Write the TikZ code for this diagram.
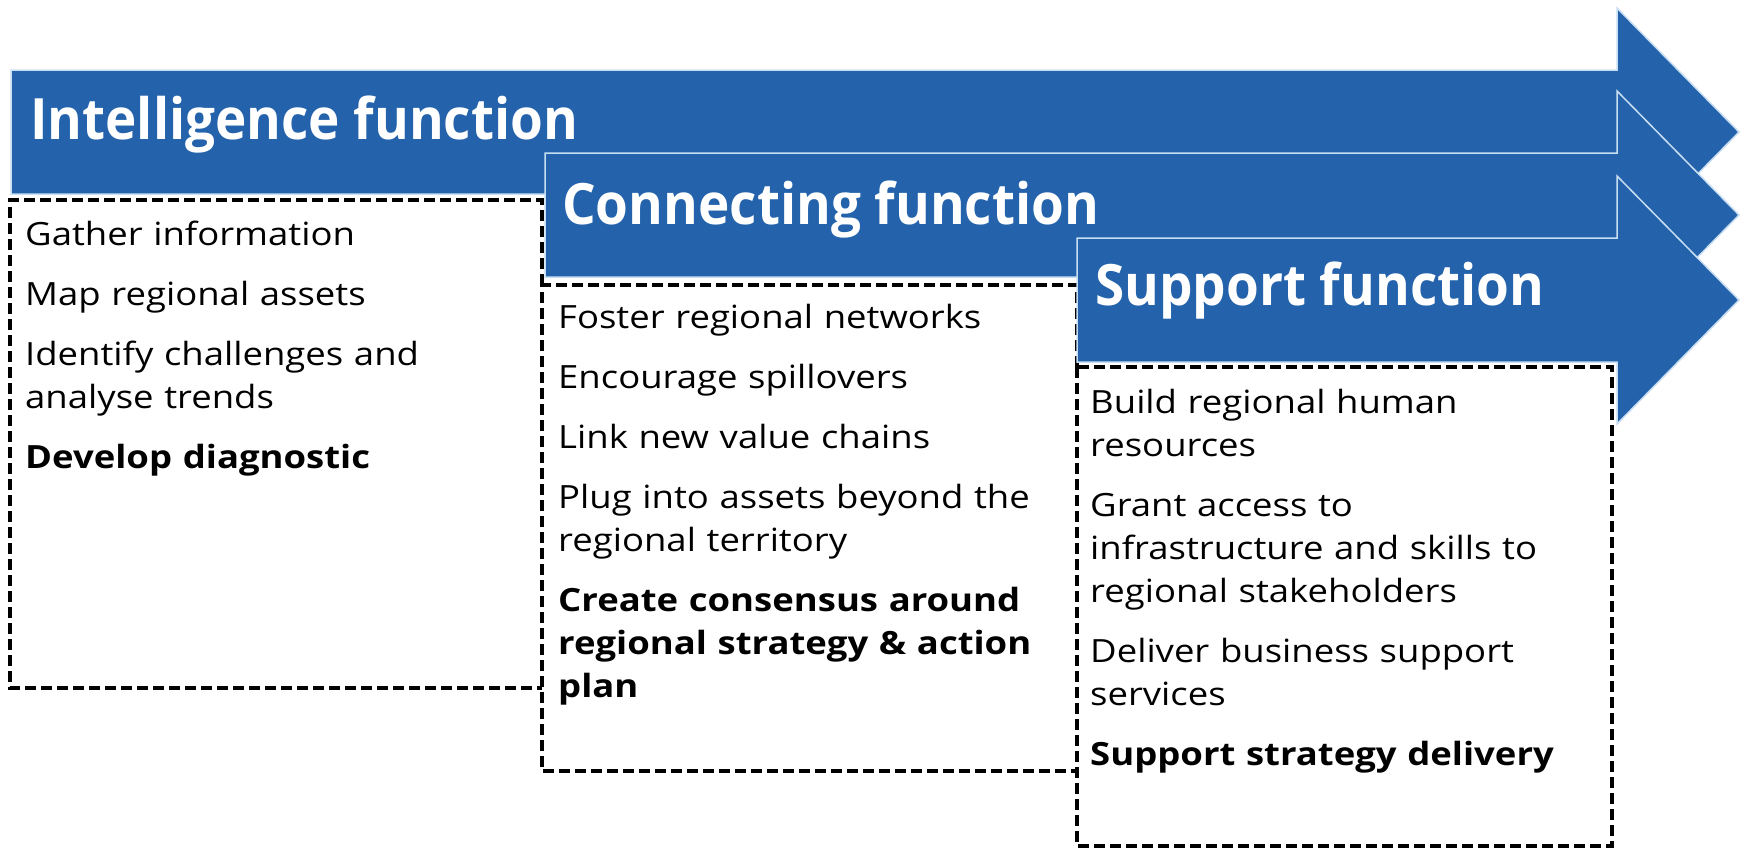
\documentclass[tikz,border=0pt]{standalone}
\usepackage{fontspec}
\setmainfont{Open Sans}
\newfontfamily\titlefont[FakeStretch=0.93]{Open Sans}
\newfontfamily\taskfont[FakeStretch=1.14]{Open Sans}
\usepackage{tikz}
\definecolor{funcblue}{RGB}{36,99,171}
\definecolor{funcedge}{RGB}{200,222,242}

\begin{document}
\begin{tikzpicture}[x=1pt,y=-1pt,
  funcarrow/.style={fill=funcblue,draw=funcedge,line width=1.5pt,line join=miter},
  tasks/.style={draw=black,line width=3.2pt,dash pattern=on 11pt off 5pt},
  functitle/.style={anchor=base west,text=white,inner sep=0pt,
    font=\titlefont\fontsize{57}{60}\selectfont\bfseries},
  tasklist/.style={anchor=north west,inner sep=0pt,text width=#1,align=left,
    font=\taskfont\fontsize{32}{43}\selectfont}]
\useasboundingbox (0,0) rectangle (1744,849);

% intelligence function
\draw[funcarrow] (11,70) -- (1617,70) -- (1617,8) -- (1739,132) -- (1617,256) -- (1617,194) -- (11,194) -- cycle;
\draw[tasks] (542,285) -- (542,200) -- (10,200) -- (10,688) -- (542,688);
\node[functitle] (intel) at (30,139) {Intelligence function};
\node[tasklist=515pt] (intellist) at (25,215) {\strut Gather information\\[17pt]
  Map regional assets\\[17pt]
  Identify challenges and\\ analyse trends\\[17pt]
  \textbf{Develop diagnostic}};

% connecting function
\draw[funcarrow] (545,153) -- (1617,153) -- (1617,91) -- (1739,215) -- (1617,339) -- (1617,277) -- (545,277) -- cycle;
\draw[tasks] (1077,367) -- (1077,285) -- (542,285) -- (542,771) -- (1077,771);
\node[functitle] (connect) at (562,224) {Connecting function};
\node[tasklist=515pt] (connectlist) at (558,298) {\strut Foster regional networks\\[17pt]
  Encourage spillovers\\[17pt]
  Link new value chains\\[17pt]
  Plug into assets beyond the\\ regional territory\\[17pt]
  \textbf{Create consensus around}\\ \textbf{regional strategy \& action}\\ \textbf{plan}};

% support function
\draw[funcarrow] (1077,238) -- (1617,238) -- (1617,176) -- (1739,300) -- (1617,424) -- (1617,362) -- (1077,362) -- cycle;
\draw[tasks] (1077,367) rectangle (1612,846);
\node[functitle] (support) at (1095,305) {Support function};
\node[tasklist=515pt] (supportlist) at (1090,383) {\strut Build regional human\\ resources\\[17pt]
  Grant access to\\ infrastructure and skills to\\ regional stakeholders\\[17pt]
  Deliver business support\\ services\\[17pt]
  \textbf{Support strategy delivery}};
\end{tikzpicture}
\end{document}
